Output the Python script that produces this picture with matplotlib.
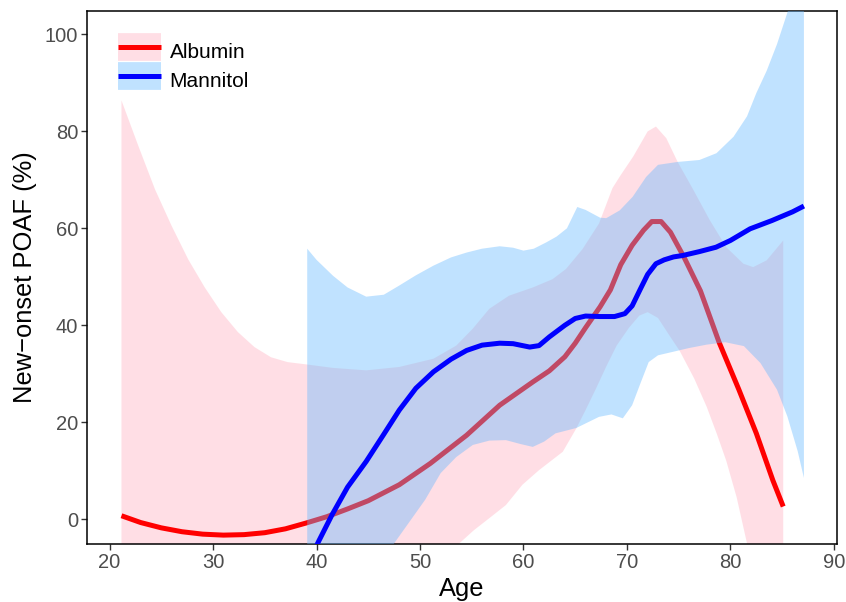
import matplotlib
matplotlib.use("Agg")
import matplotlib.pyplot as plt
from matplotlib.lines import Line2D
from matplotlib.legend_handler import HandlerTuple

plt.rcParams['font.family'] = ['Liberation Sans', 'DejaVu Sans']

# Albumin: fitted curve and confidence band
alb_x = [21.15, 23, 25, 27, 29, 31, 33, 35, 37, 39, 41, 43, 45, 48, 51, 54.5, 57.7,
         60.9, 62.5, 64, 65, 66, 67.4, 68.4, 69.4, 70.5, 71.6, 72.4, 73.3, 74.2,
         75.5, 77.1, 78.9, 80.8, 82.5, 84.1, 85.1]
alb_y = [0.7, -0.7, -1.8, -2.6, -3.1, -3.3, -3.2, -2.8, -2.0, -0.8, 0.5, 2.1, 3.8,
         7.1, 11.5, 17.3, 23.5, 28.3, 30.6, 33.5, 36.3, 39.5, 43.8, 47.3, 52.5, 56.5,
         59.6, 61.4, 61.4, 59.2, 54.1, 47.1, 36.5, 26.8, 17.7, 8.0, 2.6]

alb_up_x = [21.15, 22.8, 24.4, 26, 27.6, 29.2, 30.8, 32.4, 34, 35.6, 37.2, 39.1, 41.6,
            44.8, 48, 51.3, 53.5, 55.1, 56.7, 58.6, 60.9, 62.8, 64.1, 65.7, 67.3, 68.6,
            69.4, 70.6, 72, 72.8, 73.8, 74.9, 76.4, 78, 79.6, 81.25, 82.2, 83.5, 85.1]
alb_up_y = [86.4, 76.9, 68.0, 60.5, 53.6, 47.8, 42.7, 38.6, 35.5, 33.4, 32.4, 31.9, 31.2,
            30.7, 31.4, 33.1, 35.8, 39.3, 43.4, 46.1, 47.8, 49.5, 51.6, 55.7, 61.0, 68.3,
            71.0, 74.8, 80.0, 81.0, 78.6, 73.7, 68.0, 61.7, 56.1, 52.7, 52.0, 53.4, 57.5]
alb_lo_x = [21.15, 25, 30, 35, 40, 45, 50, 53.8, 55.2, 56.7, 58.3, 59.9, 61.5, 63.8,
            65.1, 66, 67, 68, 69, 70.2, 71.2, 72, 73, 74.1, 75.1, 76.5, 77.7, 78.7,
            79.6, 80.6, 81.6, 83, 85.1]
alb_lo_y = [-80, -62, -45, -33, -25, -18, -11, -5, -2.3, 0.2, 2.9, 7.1, 10.1, 13.9,
            18.7, 22.5, 26.9, 31.5, 35.8, 39.5, 42.0, 42.7, 41.5, 37.9, 34.7, 29.0,
            23.2, 17.5, 12.0, 4.5, -5, -18, -40]

# Mannitol: fitted curve and confidence band
man_x = [39.1, 40.2, 41.5, 43, 44.8, 46.5, 48, 49.6, 51.3, 53, 54.5, 56, 57.7, 59,
         60.6, 61.5, 62.5, 64, 65, 66, 67.4, 68.8, 69.8, 70.5, 71.3, 72, 72.8, 73.6,
         74.5, 75.4, 77, 78.6, 80, 81.9, 84, 86, 87.1]
man_y = [-9.5, -4.6, 0.9, 6.6, 11.9, 17.5, 22.5, 27.0, 30.4, 33.0, 34.8, 35.9, 36.3,
         36.2, 35.5, 35.8, 37.6, 40.0, 41.4, 41.9, 41.8, 41.8, 42.4, 44.0, 47.5, 50.5,
         52.7, 53.5, 54.1, 54.4, 55.2, 56.1, 57.5, 59.9, 61.6, 63.4, 64.6]

man_up_x = [39.1, 40, 41.6, 43, 44.8, 46.5, 48, 49.6, 51.3, 53, 54.5, 56, 57.7, 59,
            60, 61, 62.2, 63.2, 64.2, 65.2, 66, 67.4, 68, 69.3, 70.55, 71.85, 73, 74.9,
            77, 78.65, 80.3, 81.6, 82.5, 83.5, 84.5, 85.5, 86.3, 87.1]
man_up_y = [55.8, 53.5, 50.2, 47.8, 45.9, 46.3, 48.2, 50.3, 52.3, 54.0, 55.0, 55.8,
            56.3, 56.0, 55.4, 55.8, 57.1, 58.3, 60.0, 64.4, 63.8, 62.2, 62.1, 63.7, 66.5,
            70.6, 73.1, 73.7, 74.1, 75.5, 78.9, 83.1, 87.9, 92.5, 98.0, 104.5, 110, 115]
man_lo_x = [39.1, 42, 45, 47.5, 49, 50.5, 52, 53.5, 55.1, 56.7, 58.3, 59.7, 60.9, 62,
            63.1, 65.1, 67.3, 68.5, 69.6, 70.5, 71.3, 72.1, 73, 74.4, 76, 77.7, 79.5,
            81.3, 82.9, 84.5, 85.5, 86.5, 87.1]
man_lo_y = [-40, -25, -13, -5, -0.5, 4.0, 9.5, 12.8, 15.3, 16.2, 16.3, 15.5, 14.9,
            16.0, 17.7, 18.8, 21.1, 21.6, 20.8, 23.5, 28.0, 32.4, 33.8, 34.5, 35.3, 36.0,
            36.5, 35.7, 32.2, 26.7, 21.2, 14.0, 8.5]

x_ticks = [20, 30, 40, 50, 60, 70, 80, 90]
y_ticks = [0, 20, 40, 60, 80, 100]
x_minor = [25, 35, 45, 55, 65, 75, 85]
y_minor = [10, 30, 50, 70, 90]

pink_fill = (1.0, 0.75, 0.80, 0.5)
blue_fill = (0.39, 0.72, 1.0, 0.40)

fig = plt.figure(figsize=(8.46, 6.02), dpi=100)
ax = fig.add_axes([0.1032, 0.0958, 0.8862, 0.8864])

# white minor grid (only visible through the bands)
for gx in x_minor:
    ax.axvline(gx, color='white', lw=1.0, zorder=0.5)
for gy in y_minor:
    ax.axhline(gy, color='white', lw=1.0, zorder=0.5)

ax.fill(alb_up_x + alb_lo_x[::-1], alb_up_y + alb_lo_y[::-1],
        color=pink_fill, lw=0, zorder=1)
ax.plot(alb_x, alb_y, color='red', lw=3.6, solid_capstyle='butt', zorder=2)
ax.fill(man_up_x + man_lo_x[::-1], man_up_y + man_lo_y[::-1],
        color=blue_fill, lw=0, zorder=3)
ax.plot(man_x, man_y, color='blue', lw=3.6, solid_capstyle='butt', zorder=4)

ax.set_xlim(17.85, 90.3)
ax.set_ylim(-5.2, 104.9)
ax.set_xticks(x_ticks)
ax.set_yticks(y_ticks)
ax.tick_params(axis='both', which='major', length=4, width=1.0, color='#333333',
               labelsize=14.5, labelcolor='#4D4D4D', pad=2.5)
for s in ax.spines.values():
    s.set_linewidth(1.1)
    s.set_color('black')

ax.set_xlabel('Age', fontsize=18.4, labelpad=3)
ax.set_ylabel('New\u2212onset POAF (%)', fontsize=18.4, labelpad=6)

# legend keys: a wide band-coloured block with the curve centred on it
def key(fill, line):
    block = Line2D([], [], color=fill, lw=20, solid_capstyle='butt')
    curve = Line2D([], [], color=line, lw=3.6, solid_capstyle='butt')
    return (block, curve)

handles = [key(pink_fill, 'red'), key(blue_fill, 'blue')]
ax.legend(handles, ['Albumin', 'Mannitol'], handler_map={tuple: HandlerTuple(ndivide=1, pad=0)},
          loc='upper left', bbox_to_anchor=(0.041, 0.951), frameon=False, borderpad=0,
          borderaxespad=0, fontsize=15, handlelength=2.07, handleheight=1.75,
          labelspacing=0.0, handletextpad=0.4)

fig.savefig('out.png', dpi=100)
